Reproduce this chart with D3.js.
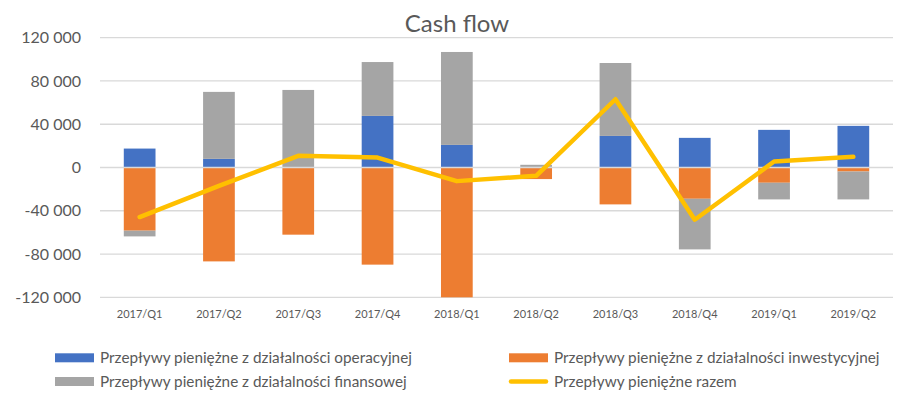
<!DOCTYPE html>
<html>
<head>
<meta charset="utf-8">
<script src="https://cdn.jsdelivr.net/npm/d3@7"></script>
<style>
  body { margin: 0; background: #fff; }
  text { font-family: Lato, "Open Sans", sans-serif; fill: #595959; }
</style>
</head>
<body>
<div id="container"></div>
<script>
// Chart data
var quarters = ['2017/Q1', '2017/Q2', '2017/Q3', '2017/Q4', '2018/Q1', '2018/Q2', '2018/Q3', '2018/Q4', '2019/Q1', '2019/Q2'];
var operacyjne = [17500, 8000, 0, 47700, 20900, 500, 29200, 27400, 34800, 38500];
var inwestycyjne = [-58400, -86800, -62100, -89800, -120000, -10700, -34100, -28900, -14100, -3700];
var finansowe = [-5300, 61900, 71700, 49800, 85900, 2000, 67400, -46800, -15400, -25800];
var razem = [-45800, -17000, 10800, 9200, -12600, -7700, 63100, -48300, 5500, 9900];
var yTicks = [-120000, -80000, -40000, 0, 40000, 80000, 120000];

var seriesNames = [
  'Przepływy pieniężne z działalności operacyjnej',
  'Przepływy pieniężne z działalności inwestycyjnej',
  'Przepływy pieniężne z działalności finansowej',
  'Przepływy pieniężne razem'
];
var colours = ['#4472C4', '#ED7D31', '#A5A5A5', '#FFC000'];

// Plot constants (note: "top" is reserved on window, so plotTop)
var width = 916,
height = 393,
plotLeft = 100,
plotRight = 893,
plotTop = 37.7,
plotBottom = 297.3;

var svg = d3.select('#container').append('svg').attr('width', width).attr('height', height);

var x = d3.scaleBand().domain(quarters).range([plotLeft, plotRight]);
var y = d3.scaleLinear().domain([-120000, 120000]).range([plotBottom, plotTop]);

var locale = d3.formatLocale({ decimal: ',', thousands: '\u00a0', grouping: [3], currency: ['', ''], minus: '-' });
var fmt = locale.format(',d');

// gridlines (zero line is drawn later, over the bars)
svg.append('g').
selectAll('line').
data(yTicks.filter(t => t !== 0)).
enter().
append('line').
attr('x1', plotLeft).
attr('x2', plotRight).
attr('y1', d => y(d)).
attr('y2', d => y(d)).
attr('stroke', '#D9D9D9').
attr('stroke-width', 1.3);

// y axis labels
svg.append('g').
selectAll('text').
data(yTicks).
enter().
append('text').
attr('x', 81).
attr('y', d => y(d)).
attr('dy', '0.35em').
attr('text-anchor', 'end').
style('font-size', '16px').
text(d => fmt(d));

// stacked bars (positive and negative stacked separately, like Excel)
var table = quarters.map((q, i) => ({ q: q, op: operacyjne[i], inv: inwestycyjne[i], fin: finansowe[i] }));
var stack = d3.stack().keys(['op', 'inv', 'fin']).offset(d3.stackOffsetDiverging);
var layers = stack(table);

var barW = x.bandwidth() * 0.4;

svg.append('g').
selectAll('g').
data(layers).
enter().
append('g').
attr('fill', (d, i) => colours[i]).
selectAll('rect').
data(d => d).
enter().
append('rect').
attr('x', d => x(d.data.q) + (x.bandwidth() - barW) / 2).
attr('y', d => y(Math.max(d[0], d[1]))).
attr('width', barW).
attr('height', d => Math.abs(y(d[0]) - y(d[1])));

// horizontal axis line at zero
svg.append('line').
attr('x1', plotLeft).
attr('x2', plotRight).
attr('y1', y(0)).
attr('y2', y(0)).
attr('stroke', '#D9D9D9').
attr('stroke-width', 1.5);

// total line
var line = d3.line().
x((d, i) => x(quarters[i]) + x.bandwidth() / 2).
y(d => y(d));

svg.append('path').
datum(razem).
attr('fill', 'none').
attr('stroke', colours[3]).
attr('stroke-width', 4.5).
attr('stroke-linejoin', 'round').
attr('stroke-linecap', 'round').
attr('d', line);

// x labels
svg.append('g').
selectAll('text').
data(quarters).
enter().
append('text').
attr('x', d => x(d) + x.bandwidth() / 2).
attr('y', 318).
attr('text-anchor', 'middle').
style('font-size', '11px').
text(d => d);

// title
svg.append('text').
attr('x', 457).
attr('y', 32).
attr('text-anchor', 'middle').
style('font-size', '24px').
text('Cash flow');

// legend
var legendPos = [
{ x: 55, y: 357.8 },
{ x: 509, y: 357.8 },
{ x: 55, y: 381.5 },
{ x: 509, y: 381.5 }];

var legend = svg.append('g').attr('id', 'legend');

legendPos.forEach(function (p, i) {
  if (i < 3) {
    legend.append('rect').
    attr('x', p.x).
    attr('y', p.y - 4.5).
    attr('width', 39).
    attr('height', 9).
    attr('fill', colours[i]);
  } else {
    legend.append('line').
    attr('x1', p.x + 2).
    attr('x2', p.x + 37).
    attr('y1', p.y).
    attr('y2', p.y).
    attr('stroke', colours[3]).
    attr('stroke-width', 4.5).
    attr('stroke-linecap', 'round');
  }
  legend.append('text').
  attr('x', p.x + 45).
  attr('y', p.y).
  attr('dy', '0.35em').
  style('font-size', '15.3px').
  text(seriesNames[i]);
});
</script>
</body>
</html>
